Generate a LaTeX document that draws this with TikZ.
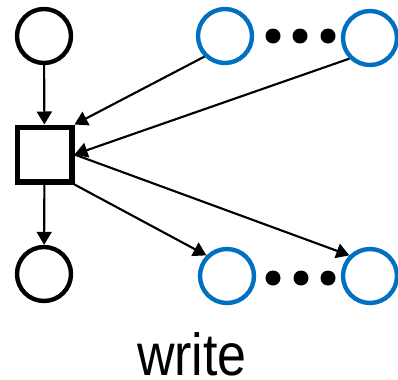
\documentclass[tikz,border=0pt]{standalone}
\usepackage{fontspec}
\setmainfont{Liberation Sans}
\usetikzlibrary{arrows.meta}
\definecolor{pblue}{RGB}{0,112,192}
\begin{document}
\begin{tikzpicture}[x=0.75pt,y=-0.75pt,
  place/.style={circle,draw=black,line width=3.3pt,minimum size=40.5pt,inner sep=0pt},
  bplace/.style={place,draw=pblue},
  trans/.style={rectangle,draw=black,line width=4pt,minimum size=41pt,inner sep=0pt},
  dot/.style={circle,fill=black,minimum size=11.25pt,inner sep=0pt},
  arc/.style={line width=1.6pt,-{Triangle[length=9.75pt,width=11.25pt]}}]
\useasboundingbox (0,0) rectangle (398,379);
\node[place] (p0) at (44,36) {};
\node[trans] (t) at (44.5,154.5) {};
\node[place] (p1) at (44,274) {};
\node[bplace] (a1) at (225,36) {};
\node[bplace] (a2) at (370,38) {};
\node[bplace] (o1) at (227,276) {};
\node[bplace] (o2) at (370,276) {};
\node[dot] (d1) at (273,36) {};
\node[dot] (d2) at (300,36) {};
\node[dot] (d3) at (328,36) {};
\node[dot] (e1) at (273,278) {};
\node[dot] (e2) at (301,278) {};
\node[dot] (e3) at (328,278) {};
\draw[arc] (p0) -- (t);
\draw[arc] (t) -- (p1);
\draw[arc] (a1.south west) -- (t.north east);
\draw[arc] (a2.south west) -- (t.east);
\draw[arc] (t.south east) -- (o1.north west);
\draw[arc] (t.east) -- (o2.north west);
\node[anchor=base,font=\fontsize{39pt}{44pt}\selectfont,inner sep=0pt] (lbl) at (192,375) {\scalebox{1}[1.14]{write}};
\end{tikzpicture}
\end{document}
